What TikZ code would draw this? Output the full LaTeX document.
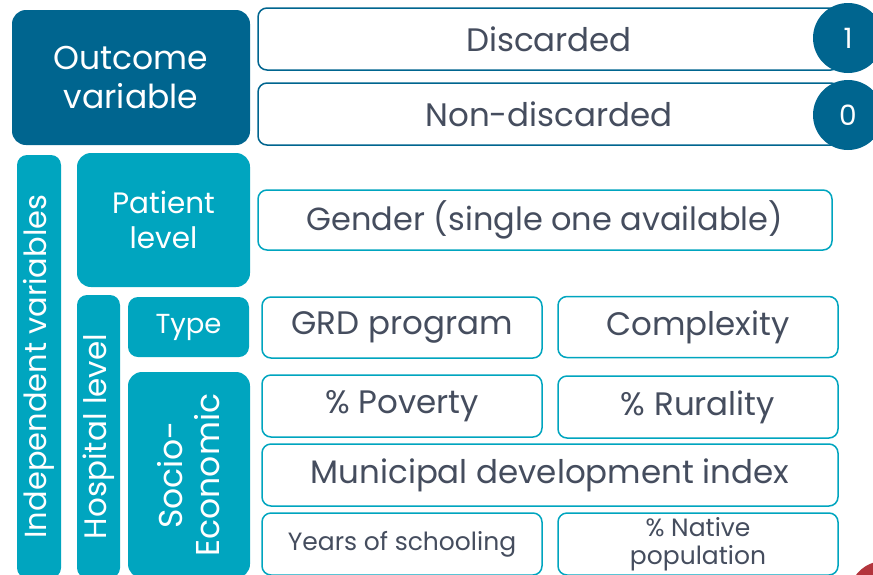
\documentclass[tikz,border=0pt]{standalone}
\usepackage{fontspec}
\setmainfont{Poppins}
\definecolor{outblue}{HTML}{00658F}
\definecolor{varteal}{HTML}{00A5BF}
\definecolor{txtgrey}{HTML}{454D5E}
\definecolor{dotred}{HTML}{B3353D}
\tikzset{
  outbox/.style={fill=outblue, text=white, rounded corners=14pt, align=center, inner sep=0pt},
  lvlbox/.style={fill=varteal, text=white, rounded corners=10pt, align=center, inner sep=0pt},
  valbox/.style={draw=varteal, line width=1.5pt, fill=white, text=txtgrey, rounded corners=9pt, align=center, inner sep=0pt},
  numdot/.style={circle, fill=outblue, text=white, minimum size=70pt, inner sep=0pt, font=\fontsize{28}{32}\selectfont},
}
\begin{document}
\begin{tikzpicture}[x=1pt, y=-1pt]
\useasboundingbox (0,0) rectangle (873,574);
\clip (0,0) rectangle (873,574);
% outcome
\node[outbox, minimum width=238pt, minimum height=135pt, font=\fontsize{33}{39}\selectfont] (outc) at (131,77.5) {Outcome\\variable};
\node[valbox, draw=outblue, minimum width=582pt, minimum height=62pt, font=\fontsize{32.5}{36}\selectfont] (disc) at (549,39) {Discarded};
\node[valbox, draw=outblue, minimum width=582pt, minimum height=62pt, font=\fontsize{32.5}{36}\selectfont] (nondisc) at (549,114) {Non-discarded};
\node[numdot] (one) at (848,38) {1};
\node[numdot] (zero) at (848,115) {0};
% independent variables
\node[lvlbox, rotate=90, minimum width=423pt, minimum height=44pt, font=\fontsize{30.5}{34}\selectfont] (indep) at (39,366.5) {Independent variables};
\node[lvlbox, minimum width=173pt, minimum height=134pt, rounded corners=14pt, font=\fontsize{29.5}{35}\selectfont] (patient) at (163.5,220) {Patient\\level};
\node[valbox, minimum width=574pt, minimum height=60pt, font=\fontsize{32}{36}\selectfont] (gender) at (545,220) {Gender (single one available)};
\node[lvlbox, rotate=90, minimum width=283pt, minimum height=43pt, font=\fontsize{31}{34}\selectfont] (hosp) at (98.5,436.5) {Hospital level};
\node[lvlbox, minimum width=121pt, minimum height=60pt, font=\fontsize{27.5}{30}\selectfont] (type) at (188.5,327) {Type};
\node[lvlbox, rotate=90, minimum width=206pt, minimum height=122pt, rounded corners=14pt, font=\fontsize{33}{37}\selectfont] (socio) at (189,475) {Socio-\\Economic};
% hospital values
\node[valbox, minimum width=280pt, minimum height=61pt, font=\fontsize{32.5}{36}\selectfont] (grd) at (402,327.5) {GRD program};
\node[valbox, minimum width=280pt, minimum height=61pt, font=\fontsize{32.5}{36}\selectfont] (cplx) at (698,327) {Complexity};
\node[valbox, minimum width=280pt, minimum height=62pt, font=\fontsize{32.5}{36}\selectfont] (pov) at (402,406) {\% Poverty};
\node[valbox, minimum width=280pt, minimum height=62pt, font=\fontsize{32.5}{36}\selectfont] (rur) at (698,407) {\% Rurality};
\node[valbox, minimum width=576pt, minimum height=62pt, font=\fontsize{32.5}{36}\selectfont] (mdi) at (550,475) {Municipal development index};
\node[valbox, minimum width=280pt, minimum height=62pt, font=\fontsize{25}{28}\selectfont] (school) at (402,544) {Years of schooling};
\node[valbox, minimum width=280pt, minimum height=62pt, font=\fontsize{25}{28}\selectfont] (native) at (698,544) {\% Native\\population};
\node[circle, fill=dotred, minimum size=70pt] (reddot) at (884,596) {};
\end{tikzpicture}
\end{document}
